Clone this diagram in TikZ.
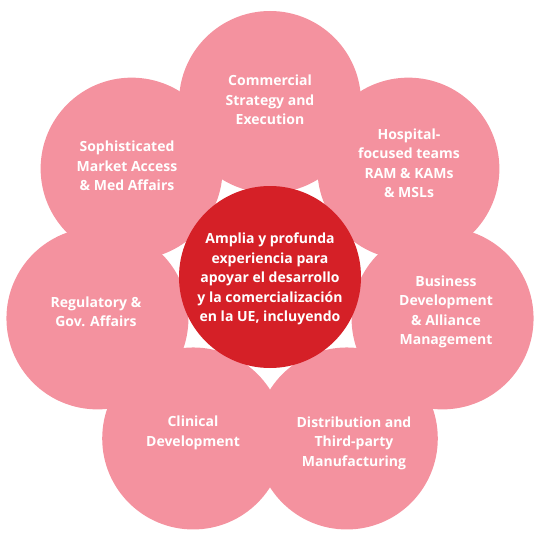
\documentclass[tikz,border=0pt]{standalone}
\usepackage{fontspec}
\setmainfont{Open Sans}
\usetikzlibrary{calc}
\definecolor{petalpink}{RGB}{244,146,159}
\definecolor{corered}{RGB}{213,32,39}
\begin{document}
\begin{tikzpicture}[x=1pt,y=-1pt,
  petal/.style={circle,fill=petalpink,draw=none,minimum size=182pt,inner sep=0pt},
  core/.style={circle,fill=corered,draw=none,minimum size=182pt,inner sep=0pt},
  lbl/.style={text=white,align=center,font=\fontsize{14}{19.5}\selectfont\bfseries,inner sep=0pt}]
\useasboundingbox (0,0) rectangle (540,540);
\coordinate (c) at (270,279);
\foreach \a/\n in {90/p1,38.571/p2,-12.857/p3,-64.286/p4,-115.714/p5,-167.143/p6,141.429/p7}{
  \node[petal] (\n) at ($(c)+(\a:177pt)$) {};
}
\node[core] (core) at (270,277) {};
\node[lbl] (t0) at (270,279) {Amplia y profunda\\experiencia para\\apoyar el desarrollo\\y la comercialización\\en la UE, incluyendo};
\node[lbl] (t1) at (270,100) {Commercial\\Strategy and\\Execution};
\node[lbl] (t2) at (409,163) {Hospital-\\focused teams\\RAM \& KAMs\\\& MSLs};
\node[lbl] (t3) at (446,312) {Business\\Development\\\& Alliance\\Management};
\node[lbl] (t4) at (354,443) {Distribution and\\Third-party\\Manufacturing};
\node[lbl] (t5) at (193,433) {Clinical\\Development};
\node[lbl] (t6) at (96,312) {Regulatory \&\\Gov. Affairs};
\node[lbl] (t7) at (127,166) {Sophisticated\\Market Access\\\& Med Affairs};
\end{tikzpicture}
\end{document}
